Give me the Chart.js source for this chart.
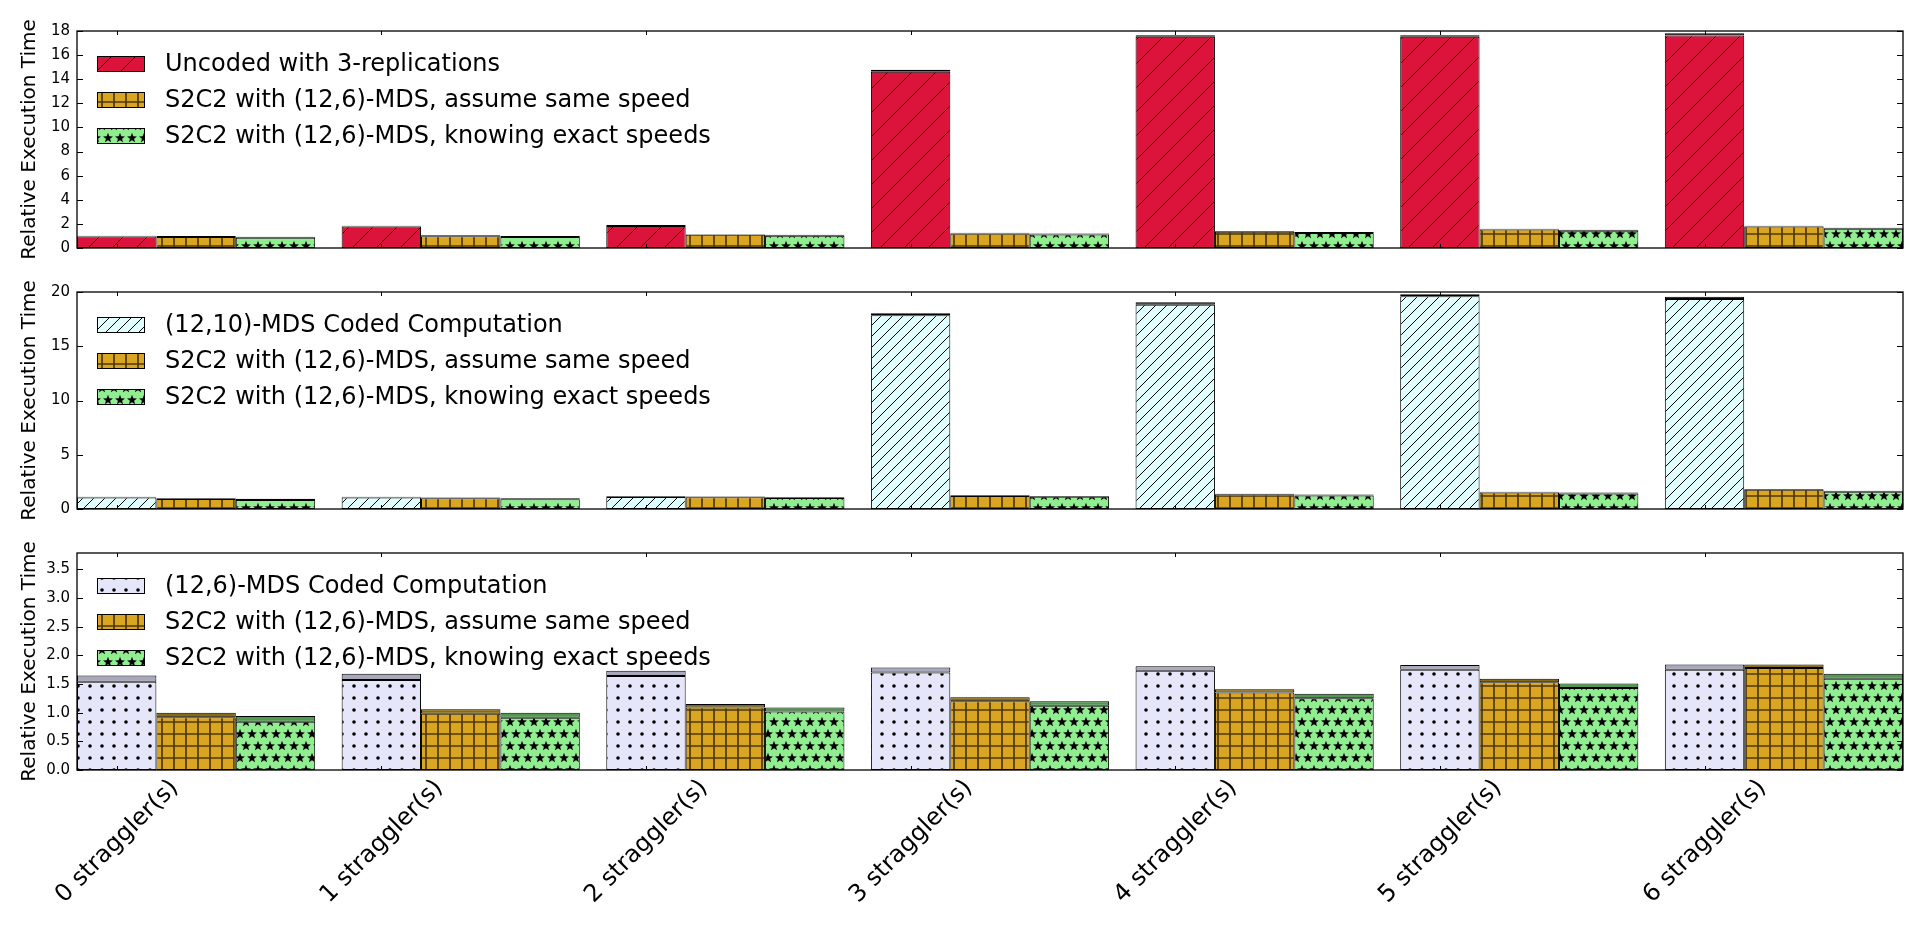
<!DOCTYPE html>
<html><head><meta charset="utf-8">
<script src="https://cdn.jsdelivr.net/npm/chart.js@4.4.1/dist/chart.umd.min.js"></script>
<style>
html,body{margin:0;padding:0;background:#fff;}
#wrap{position:relative;width:1920px;height:925px;overflow:hidden;background:#fff;}
canvas{position:absolute;left:0;}
</style></head><body>
<div id="wrap">
<canvas id="c1" width="1920" height="262" style="top:0px"></canvas>
<canvas id="c2" width="1920" height="262" style="top:262px"></canvas>
<canvas id="c3" width="1920" height="401" style="top:524px"></canvas>
</div>
<script>
// ---------- data ----------
const categories = ['0 straggler(s)','1 straggler(s)','2 straggler(s)','3 straggler(s)','4 straggler(s)','5 straggler(s)','6 straggler(s)'];

const uncodedTop   = [1.02, 1.85, 1.90, 14.78, 17.65, 17.65, 17.82];
const uncodedBase  = [0.95, 1.78, 1.82, 14.62, 17.52, 17.52, 17.62];

const mds1210Top   = [1.13, 1.13, 1.18, 18.04, 19.05, 19.80, 19.57];
const mds1210Base  = [1.05, 1.06, 1.10, 17.85, 18.82, 19.60, 19.35];

const mds126Top    = [1.65, 1.68, 1.73, 1.79, 1.81, 1.83, 1.84];
const mds126Base   = [1.54, 1.57, 1.64, 1.70, 1.73, 1.75, 1.75];

const sameTop      = [1.00, 1.06, 1.15, 1.27, 1.41, 1.59, 1.84];
const sameBase     = [0.92, 0.98, 1.09, 1.20, 1.35, 1.53, 1.78];

const exactTop     = [0.94, 1.00, 1.09, 1.20, 1.33, 1.51, 1.68];
const exactBase    = [0.84, 0.91, 1.02, 1.12, 1.25, 1.43, 1.59];

const labelUncoded = 'Uncoded with 3-replications';
const label1210    = '(12,10)-MDS Coded Computation';
const label126     = '(12,6)-MDS Coded Computation';
const labelSame    = 'S2C2 with (12,6)-MDS, assume same speed';
const labelExact   = 'S2C2 with (12,6)-MDS, knowing exact speeds';

const yTicksTop = [0, 2, 4, 6, 8, 10, 12, 14, 16, 18];
const yTicksMid = [0, 5, 10, 15, 20];
const yTicksBot = [0, 0.5, 1.0, 1.5, 2.0, 2.5, 3.0, 3.5];
const yMaxTop = 18, yMaxMid = 20, yMaxBot = 3.785;
const yTitle = 'Relative Execution Time';

// ---------- hatch patterns ----------
function makePattern(ctx, kind){
  const t = document.createElement('canvas');
  const g = t.getContext('2d');
  let w = 12, h = 12, bg = '#fff';
  if (kind === 'slash') { w = 24; h = 24; bg = '#DC143C'; }
  if (kind === 'dslash') { w = 11; h = 11; bg = '#E0FFFF'; }
  if (kind === 'plus') { w = 12; h = 12; bg = '#DAA520'; }
  if (kind === 'dots') { w = 12; h = 12; bg = '#E6E6FA'; }
  if (kind === 'stars') { w = 12; h = 24; bg = '#90EE90'; }
  t.width = w; t.height = h;
  g.fillStyle = bg; g.fillRect(0, 0, w, h);
  g.strokeStyle = '#000'; g.fillStyle = '#000';
  if (kind === 'slash' || kind === 'dslash') {
    g.lineWidth = 1;
    g.beginPath();
    for (let k = -1; k <= 1; k++) { g.moveTo(k*w, h); g.lineTo(k*w + w, 0); }
    g.stroke();
  } else if (kind === 'plus') {
    g.strokeStyle = 'rgba(30,20,0,0.75)';
    g.lineWidth = 1.7;
    g.beginPath();
    g.moveTo(6, 0); g.lineTo(6, h);
    g.moveTo(0, 6); g.lineTo(w, 6);
    g.stroke();
  } else if (kind === 'dots') {
    g.beginPath(); g.arc(6, 6, 1.8, 0, Math.PI*2); g.fill();
  } else if (kind === 'stars') {
    const star = (cx, cy) => {
      g.beginPath();
      for (let k = 0; k < 10; k++) {
        const a = -Math.PI/2 + k*Math.PI/5, r = (k % 2) ? 2.2 : 5.2;
        g.lineTo(cx + r*Math.cos(a), cy + r*Math.sin(a));
      }
      g.closePath(); g.fill();
    };
    star(6, 6); star(0, 18); star(12, 18);
  }
  return ctx.createPattern(t, 'repeat');
}

// ---------- plugins ----------
const framePlugin = {
  id: 'frame',
  afterDatasetsDraw(chart){
    const {ctx, chartArea: a, scales: {x, y}} = chart;
    ctx.save();
    ctx.strokeStyle = '#000'; ctx.lineWidth = 1;
    ctx.beginPath();
    y.ticks.forEach(t => {
      const py = Math.round(y.getPixelForValue(t.value)) + 0.5;
      ctx.moveTo(a.left, py); ctx.lineTo(a.left + 6, py);
      ctx.moveTo(a.right, py); ctx.lineTo(a.right - 6, py);
    });
    (x.ticks || []).forEach(t => {
      const px = Math.round(x.getPixelForValue(t.value)) + 0.5;
      ctx.moveTo(px, a.top); ctx.lineTo(px, a.top + 4);
      ctx.moveTo(px, a.bottom); ctx.lineTo(px, a.bottom - 4);
    });
    ctx.stroke();
    ctx.lineWidth = 1.3;
    ctx.strokeRect(a.left, a.top, a.right - a.left, a.bottom - a.top);
    ctx.restore();
  }
};
const hatchLegend = {
  id: 'hatchLegend',
  afterDraw(chart){
    const {ctx, chartArea: a} = chart;
    const items = chart.data.datasets.filter(d => d.label);
    ctx.save();
    items.forEach((d, k) => {
      const cy = a.top + 33 + k*36;
      const bx = a.left + 20;
      ctx.fillStyle = d.backgroundColor;
      ctx.fillRect(bx, cy - 8, 48, 16);
      ctx.strokeStyle = '#000'; ctx.lineWidth = 1;
      ctx.strokeRect(bx + 0.5, cy - 7.5, 47, 15);
      ctx.fillStyle = '#000';
      ctx.font = '24px "DejaVu Sans"';
      ctx.textBaseline = 'middle'; ctx.textAlign = 'left';
      ctx.fillText(d.label, bx + 68, cy + 1);
    });
    ctx.restore();
  }
};

// ---------- panels ----------
function makePanel(id, series, yMax, yTicks, fmt, padTop, padBottom, showX){
  const canvas = document.getElementById(id);
  const ctx = canvas.getContext('2d');
  const datasets = [];
  series.forEach((s, k) => {
    datasets.push({
      label: s.label,
      data: s.base.map((v, i) => ({x: i, y: [0, v]})),
      backgroundColor: makePattern(ctx, s.hatch),
      borderColor: '#000', borderWidth: 1, borderSkipped: false,
      stack: 'g' + k, barPercentage: 1, categoryPercentage: 0.9
    });
    datasets.push({
      label: '',
      data: s.base.map((v, i) => ({x: i, y: [v, s.top[i]]})),
      backgroundColor: s.band,
      borderColor: '#000', borderWidth: 1, borderSkipped: false,
      stack: 'g' + k, barPercentage: 1, categoryPercentage: 0.9
    });
  });
  return new Chart(ctx, {
    type: 'bar',
    data: {datasets},
    plugins: [framePlugin, hatchLegend],
    options: {
      responsive: false, animation: false, devicePixelRatio: 1,
      layout: {padding: {left: 0, right: 17, top: padTop, bottom: padBottom}},
      plugins: {legend: {display: false}, tooltip: {enabled: false}},
      scales: {
        x: {
          type: 'linear', min: -0.45, max: 6.45, offset: false, stacked: true, display: showX,
          grid: {display: false, drawTicks: false}, border: {display: false},
          afterBuildTicks: sc => { sc.ticks = categories.map((c, i) => ({value: i - 0.30})); },
          afterFit: sc => { sc.paddingLeft = 0; sc.paddingRight = 0; if (showX) sc.height = 155; },
          ticks: {autoSkip: false, minRotation: 45, maxRotation: 45, padding: 4, labelOffset: 58,
                  color: '#000', font: {family: 'DejaVu Sans', size: 24},
                  callback: (v, i) => categories[i]}
        },
        y: {
          min: 0, max: yMax, stacked: false,
          grid: {display: false, drawTicks: false}, border: {display: false},
          afterBuildTicks: sc => { sc.ticks = yTicks.map(v => ({value: v})); },
          afterFit: sc => { sc.width = 77; sc.paddingTop = 0; sc.paddingBottom = 0; },
          ticks: {padding: 7, color: '#000', font: {family: 'DejaVu Sans', size: 15}, callback: v => fmt(v)},
          title: {display: true, text: yTitle, color: '#000', font: {family: 'DejaVu Sans', size: 20},
                  padding: {top: 18, bottom: 0}}
        }
      }
    }
  });
}

const sSame  = {label: labelSame,  base: sameBase,  top: sameTop,  hatch: 'plus',  band: '#8a6a10'};
const sExact = {label: labelExact, base: exactBase, top: exactTop, hatch: 'stars', band: '#4f9a4f'};

makePanel('c1', [
  {label: labelUncoded, base: uncodedBase, top: uncodedTop, hatch: 'slash', band: '#1a0005'},
  sSame, sExact
], yMaxTop, yTicksTop, v => String(v), 31, 14, false);

makePanel('c2', [
  {label: label1210, base: mds1210Base, top: mds1210Top, hatch: 'dslash', band: '#111'},
  sSame, sExact
], yMaxMid, yTicksMid, v => String(v), 30, 15, false);

makePanel('c3', [
  {label: label126, base: mds126Base, top: mds126Top, hatch: 'dots', band: '#a8a8bc'},
  sSame, sExact
], yMaxBot, yTicksBot, v => v.toFixed(1), 29, 0, true);
</script>
</body></html>
